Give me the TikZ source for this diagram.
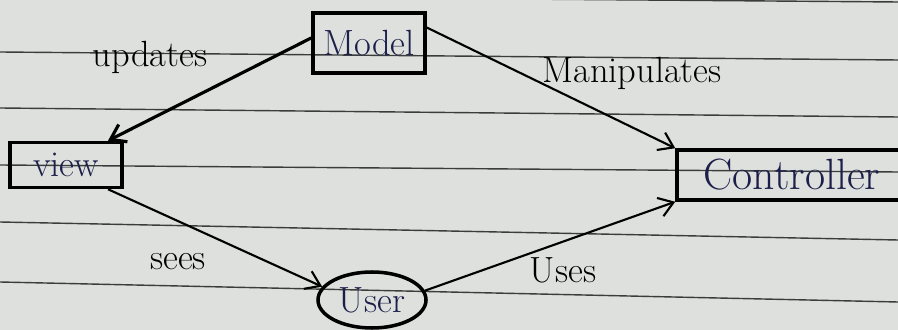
\documentclass[tikz,border=0pt]{standalone}
\usetikzlibrary{shapes.geometric,arrows.meta}

\begin{document}
\begin{tikzpicture}[x=0.2mm, y=-0.2mm,
    box/.style={draw=black, line width=2pt, text=ink, font=\huge, inner sep=0pt},
    link/.style={draw=black, line width=1.2pt, -{Straight Barb[length=8pt,width=11pt]}},
    lbl/.style={font=\huge, text=black}]
    \definecolor{paper}{HTML}{DDE0DC}
    \definecolor{ink}{HTML}{1C1F4A}
    \definecolor{rule}{HTML}{3A3D3C}

    \useasboundingbox[fill=paper] (0,0) rectangle (898,330);
    \clip (0,0) rectangle (898,330);

    \foreach \yl/\yr in {-5/2, 52/60, 108/117, 165/172, 222/240, 282/302} {
        \path[draw=rule, line width=0.8pt] (0,\yl) -- (898,\yr);
    }

    \node[box, minimum width=22.4mm, minimum height=12mm] (model) at (369,43) {Model};
    \node[box, minimum width=22.4mm, minimum height=9mm] (view) at (66,165) {view};
    \node[box, font=\Huge, minimum width=46mm, minimum height=10mm] (controller) at (792,175) {Controller};
    \node[box, ellipse, minimum width=21.6mm, minimum height=11.2mm] (user) at (372,300) {User};

    \node[lbl] (lbl_updates) at (150,57) {updates};
    \node[lbl] (lbl_manipulates) at (632,73) {Manipulates};
    \node[lbl] (lbl_sees) at (178,262) {sees};
    \node[lbl] (lbl_uses) at (563,270) {Uses};

    \path[link, line width=1.8pt] (model.175) -- (view.30);
    \path[link] (model.15) -- (controller.north west);
    \path[link] (view.-30) -- (user.165);
    \path[link] (user.10) -- (controller.south west);

\end{tikzpicture}
\end{document}
